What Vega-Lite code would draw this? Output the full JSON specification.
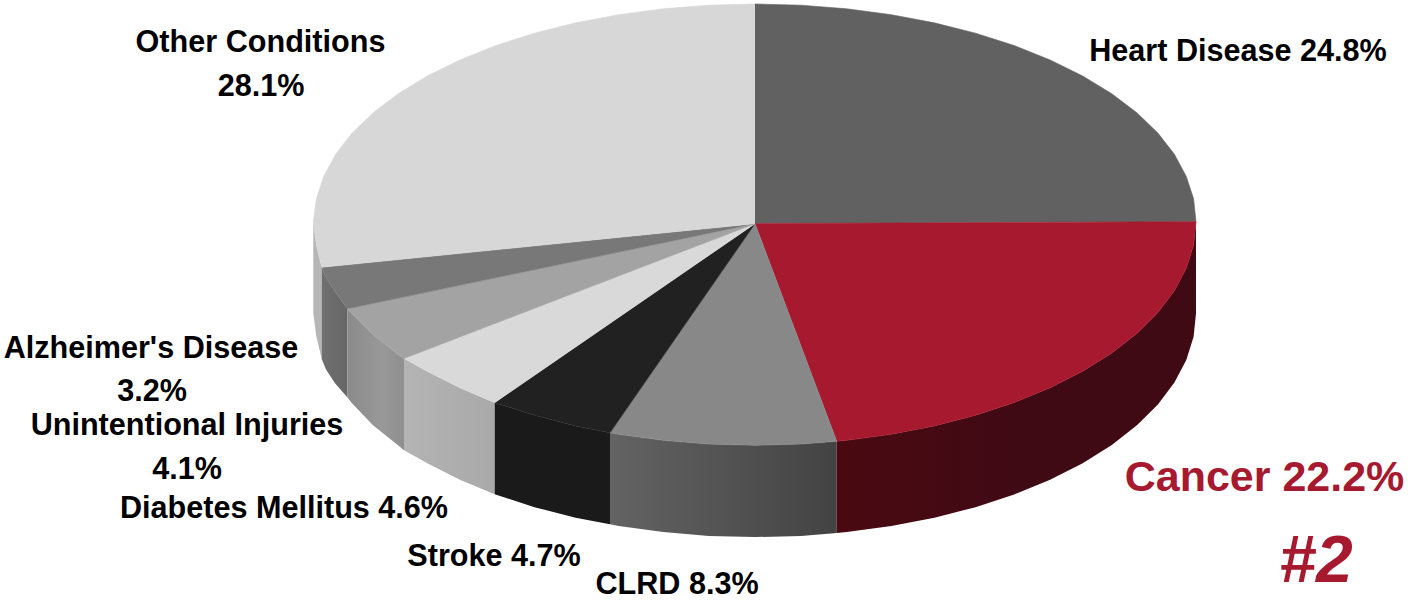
{
"$schema":"https://vega.github.io/schema/vega-lite/v6.json",
"width":1408,"height":601,"padding":0,
"autosize":{"type":"fit","contains":"padding"},
"background":"white",
"view":{"stroke":null},
"datasets":{
"top":[
{"slice":"Heart Disease","seq":0,"x":755,"y":224},{"slice":"Heart Disease","seq":1,"x":755,"y":4},{"slice":"Heart Disease","seq":2,"x":801.1,"y":5.2},{"slice":"Heart Disease","seq":3,"x":846.7,"y":8.8},{"slice":"Heart Disease","seq":4,"x":891.3,"y":14.7},{"slice":"Heart Disease","seq":5,"x":934.4,"y":22.9},{"slice":"Heart Disease","seq":6,"x":975.5,"y":33.2},{"slice":"Heart Disease","seq":7,"x":1014.2,"y":45.6},{"slice":"Heart Disease","seq":8,"x":1050.1,"y":60},{"slice":"Heart Disease","seq":9,"x":1082.7,"y":76.1},{"slice":"Heart Disease","seq":10,"x":1111.8,"y":93.9},{"slice":"Heart Disease","seq":11,"x":1136.9,"y":113},{"slice":"Heart Disease","seq":12,"x":1157.9,"y":133.3},{"slice":"Heart Disease","seq":13,"x":1174.4,"y":154.6},{"slice":"Heart Disease","seq":14,"x":1186.3,"y":176.7},{"slice":"Heart Disease","seq":15,"x":1193.6,"y":199.2},{"slice":"Heart Disease","seq":16,"x":1196,"y":222},
{"slice":"Cancer","seq":0,"x":755,"y":224},{"slice":"Cancer","seq":1,"x":1196,"y":222},{"slice":"Cancer","seq":2,"x":1193.6,"y":245.4},{"slice":"Cancer","seq":3,"x":1186.3,"y":268.6},{"slice":"Cancer","seq":4,"x":1174.4,"y":291.2},{"slice":"Cancer","seq":5,"x":1157.9,"y":313.1},{"slice":"Cancer","seq":6,"x":1136.9,"y":334},{"slice":"Cancer","seq":7,"x":1111.8,"y":353.7},{"slice":"Cancer","seq":8,"x":1082.7,"y":371.9},{"slice":"Cancer","seq":9,"x":1050.1,"y":388.5},{"slice":"Cancer","seq":10,"x":1014.2,"y":403.2},{"slice":"Cancer","seq":11,"x":975.5,"y":416},{"slice":"Cancer","seq":12,"x":934.4,"y":426.6},{"slice":"Cancer","seq":13,"x":891.3,"y":435},{"slice":"Cancer","seq":14,"x":846.7,"y":441.1},{"slice":"Cancer","seq":15,"x":836.7,"y":442},
{"slice":"CLRD","seq":0,"x":755,"y":224},{"slice":"CLRD","seq":1,"x":836.7,"y":442},{"slice":"CLRD","seq":2,"x":801.1,"y":444.8},{"slice":"CLRD","seq":3,"x":755,"y":446},{"slice":"CLRD","seq":4,"x":708.9,"y":444.8},{"slice":"CLRD","seq":5,"x":663.3,"y":441.1},{"slice":"CLRD","seq":6,"x":618.7,"y":435},{"slice":"CLRD","seq":7,"x":610,"y":433.5},
{"slice":"Stroke","seq":0,"x":755,"y":224},{"slice":"Stroke","seq":1,"x":610,"y":433.5},{"slice":"Stroke","seq":2,"x":575.6,"y":426.6},{"slice":"Stroke","seq":3,"x":534.5,"y":416},{"slice":"Stroke","seq":4,"x":494.7,"y":403.3},
{"slice":"Diabetes Mellitus","seq":0,"x":755,"y":224},{"slice":"Diabetes Mellitus","seq":1,"x":494.7,"y":403.3},{"slice":"Diabetes Mellitus","seq":2,"x":459.9,"y":388.5},{"slice":"Diabetes Mellitus","seq":3,"x":427.3,"y":372},{"slice":"Diabetes Mellitus","seq":4,"x":404,"y":359},
{"slice":"Unintentional Injuries","seq":0,"x":755,"y":224},{"slice":"Unintentional Injuries","seq":1,"x":404,"y":359},{"slice":"Unintentional Injuries","seq":2,"x":398,"y":355},{"slice":"Unintentional Injuries","seq":3,"x":373,"y":335},{"slice":"Unintentional Injuries","seq":4,"x":352,"y":314},{"slice":"Unintentional Injuries","seq":5,"x":347.3,"y":309.3},
{"slice":"Alzheimer's Disease","seq":0,"x":755,"y":224},{"slice":"Alzheimer's Disease","seq":1,"x":347.3,"y":309.3},{"slice":"Alzheimer's Disease","seq":2,"x":335,"y":292},{"slice":"Alzheimer's Disease","seq":3,"x":326,"y":278},{"slice":"Alzheimer's Disease","seq":4,"x":321.7,"y":267.7},
{"slice":"Other Conditions","seq":0,"x":755,"y":224},{"slice":"Other Conditions","seq":1,"x":321.7,"y":267.7},{"slice":"Other Conditions","seq":2,"x":316.4,"y":245.4},{"slice":"Other Conditions","seq":3,"x":313.3,"y":222},{"slice":"Other Conditions","seq":4,"x":316.4,"y":199.2},{"slice":"Other Conditions","seq":5,"x":323.7,"y":176.7},{"slice":"Other Conditions","seq":6,"x":335.6,"y":154.6},{"slice":"Other Conditions","seq":7,"x":352.1,"y":133.3},{"slice":"Other Conditions","seq":8,"x":373.1,"y":113},{"slice":"Other Conditions","seq":9,"x":398.2,"y":93.9},{"slice":"Other Conditions","seq":10,"x":427.3,"y":76.1},{"slice":"Other Conditions","seq":11,"x":459.9,"y":60},{"slice":"Other Conditions","seq":12,"x":495.8,"y":45.6},{"slice":"Other Conditions","seq":13,"x":534.5,"y":33.2},{"slice":"Other Conditions","seq":14,"x":575.6,"y":22.9},{"slice":"Other Conditions","seq":15,"x":618.7,"y":14.7},{"slice":"Other Conditions","seq":16,"x":663.3,"y":8.8},{"slice":"Other Conditions","seq":17,"x":708.9,"y":5.2},{"slice":"Other Conditions","seq":18,"x":755,"y":4}
],
"wallOther":[{"x":313.3,"y":222,"bottom":314},{"x":316.4,"y":245.4,"bottom":337.4},{"x":321.7,"y":267.7,"bottom":359.7}],
"wallAlz":[{"x":321.7,"y":267.7,"bottom":359.7},{"x":326,"y":278,"bottom":370},{"x":335,"y":292,"bottom":384},{"x":347.3,"y":309.3,"bottom":398}],
"wallInj":[{"x":347.3,"y":309.3,"bottom":398},{"x":352,"y":314,"bottom":404},{"x":373,"y":335,"bottom":426},{"x":398,"y":355,"bottom":446},{"x":404,"y":359,"bottom":451}],
"wallDiab":[{"x":404,"y":359,"bottom":451},{"x":427.3,"y":372,"bottom":464},{"x":459.9,"y":388.5,"bottom":480.5},{"x":494.7,"y":403.3,"bottom":495}],
"wallStroke":[{"x":494.7,"y":403.3,"bottom":495},{"x":534.5,"y":416,"bottom":508},{"x":575.6,"y":426.6,"bottom":518.6},{"x":610,"y":433.5,"bottom":525}],
"wallCLRD":[{"x":610,"y":433.5,"bottom":525},{"x":618.7,"y":435,"bottom":527},{"x":663.3,"y":441.1,"bottom":533},{"x":708.9,"y":444.8,"bottom":536.8},{"x":755,"y":446,"bottom":538},{"x":801.1,"y":444.8,"bottom":536.8},{"x":836.7,"y":442,"bottom":534}],
"wallCancer":[{"x":836.7,"y":442,"bottom":534},{"x":846.7,"y":441.1,"bottom":533},{"x":891.3,"y":435,"bottom":527},{"x":934.4,"y":426.6,"bottom":518.6},{"x":975.5,"y":416,"bottom":508},{"x":1014.2,"y":403.2,"bottom":495.2},{"x":1050.1,"y":388.5,"bottom":480.5},{"x":1082.7,"y":371.9,"bottom":463.9},{"x":1111.8,"y":353.7,"bottom":445.7},{"x":1136.9,"y":334,"bottom":426},{"x":1157.9,"y":313.1,"bottom":405.1},{"x":1174.4,"y":291.2,"bottom":383.2},{"x":1186.3,"y":268.6,"bottom":360.6},{"x":1193.6,"y":245.4,"bottom":337.4},{"x":1196,"y":222,"bottom":314}],
"labels":[
{"label":"Other Conditions","x":260.5,"y":52.5},{"label":"28.1%","x":261,"y":96},
{"label":"Heart Disease 24.8%","x":1238,"y":61.5},
{"label":"CLRD 8.3%","x":677,"y":595},
{"label":"Stroke 4.7%","x":494,"y":566.5},
{"label":"Diabetes Mellitus 4.6%","x":284,"y":518.5},
{"label":"Unintentional Injuries","x":187,"y":435.5},{"label":"4.1%","x":187,"y":479.5},
{"label":"Alzheimer's Disease","x":151,"y":358.5},{"label":"3.2%","x":152,"y":402}
],
"cancerLabel":[{"label":"Cancer 22.2%","x":1264.5,"y":492}],
"rankLabel":[{"label":"#2","x":1316,"y":583}]
},
"encoding":{
"x":{"field":"x","type":"quantitative","scale":{"domain":[0,1408],"nice":false,"zero":false},"axis":null},
"y":{"field":"y","type":"quantitative","scale":{"domain":[601,0],"nice":false,"zero":false},"axis":null}
},
"layer":[
{"data":{"name":"wallOther"},"mark":{"type":"area","fill":"#b6b6b6"},"encoding":{"y2":{"field":"bottom"}}},
{"data":{"name":"wallAlz"},"mark":{"type":"area","fill":{"gradient":"linear","x1":0,"y1":0,"x2":1,"y2":0,"stops":[{"offset":0,"color":"#707070"},{"offset":1,"color":"#666666"}]}},"encoding":{"y2":{"field":"bottom"}}},
{"data":{"name":"wallInj"},"mark":{"type":"area","fill":{"gradient":"linear","x1":0,"y1":0,"x2":1,"y2":0,"stops":[{"offset":0,"color":"#8a8a8a"},{"offset":0.6,"color":"#999999"},{"offset":1,"color":"#8f8f8f"}]}},"encoding":{"y2":{"field":"bottom"}}},
{"data":{"name":"wallDiab"},"mark":{"type":"area","fill":{"gradient":"linear","x1":0,"y1":0,"x2":1,"y2":0,"stops":[{"offset":0,"color":"#b4b4b4"},{"offset":1,"color":"#a9a9a9"}]}},"encoding":{"y2":{"field":"bottom"}}},
{"data":{"name":"wallStroke"},"mark":{"type":"area","fill":"#1a1a1a"},"encoding":{"y2":{"field":"bottom"}}},
{"data":{"name":"wallCLRD"},"mark":{"type":"area","fill":{"gradient":"linear","x1":0,"y1":0,"x2":1,"y2":0,"stops":[{"offset":0,"color":"#636363"},{"offset":1,"color":"#434343"}]}},"encoding":{"y2":{"field":"bottom"}}},
{"data":{"name":"wallCancer"},"mark":{"type":"area","fill":{"gradient":"linear","x1":0,"y1":0,"x2":1,"y2":0,"stops":[{"offset":0,"color":"#4a0911"},{"offset":0.5,"color":"#400a14"},{"offset":1,"color":"#400a14"}]}},"encoding":{"y2":{"field":"bottom"}}},
{"data":{"name":"top"},"mark":{"type":"line","strokeWidth":0.6,"interpolate":"linear"},"encoding":{
"order":{"field":"seq","type":"quantitative"},
"fill":{"field":"slice","type":"nominal","legend":null,"scale":{"domain":["Heart Disease","Cancer","CLRD","Stroke","Diabetes Mellitus","Unintentional Injuries","Alzheimer's Disease","Other Conditions"],"range":["#616161","#a6192e","#888888","#212121","#d9d9d9","#a3a3a3","#787878","#d7d7d7"]}},
"stroke":{"field":"slice","type":"nominal","legend":null,"scale":{"domain":["Heart Disease","Cancer","CLRD","Stroke","Diabetes Mellitus","Unintentional Injuries","Alzheimer's Disease","Other Conditions"],"range":["#616161","#a6192e","#888888","#212121","#d9d9d9","#a3a3a3","#787878","#d7d7d7"]}}
}},
{"data":{"name":"labels"},"mark":{"type":"text","font":"Liberation Sans","fontWeight":"bold","fontSize":30.6,"align":"center","baseline":"alphabetic","color":"#000000"},"encoding":{"text":{"field":"label","type":"nominal"}}},
{"data":{"name":"cancerLabel"},"mark":{"type":"text","font":"Liberation Sans","fontWeight":"bold","fontSize":43,"align":"center","baseline":"alphabetic","color":"#a6192e"},"encoding":{"text":{"field":"label","type":"nominal"}}},
{"data":{"name":"rankLabel"},"mark":{"type":"text","font":"Liberation Sans","fontWeight":"bold","fontStyle":"italic","fontSize":66,"align":"center","baseline":"alphabetic","color":"#a6192e"},"encoding":{"text":{"field":"label","type":"nominal"}}}
]
}
